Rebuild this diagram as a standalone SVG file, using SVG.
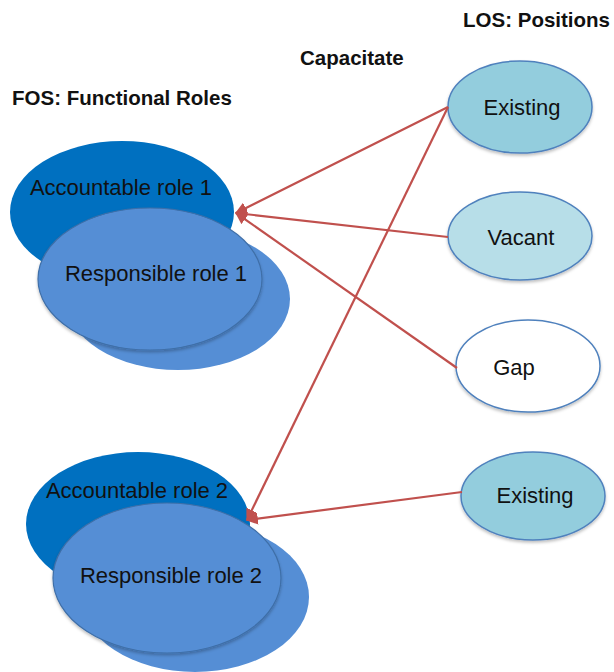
<svg xmlns="http://www.w3.org/2000/svg" width="614" height="672" viewBox="0 0 614 672">
  <style>
    .hdr { font-family: "Liberation Sans", Arial, sans-serif; font-weight: bold; font-size: 20.5px; fill: #111; }
    .lbl { font-family: "Liberation Sans", Arial, sans-serif; font-size: 22px; fill: #111; text-anchor: middle; }
    .acc { fill: #0070C0; }
    .resp { fill: #558ED5; }
    .resp-front { fill: #558ED5; stroke: #3F6FA8; stroke-width: 1.2; }
    .pos { stroke: #4F81BD; stroke-width: 1.5; }
    .existing { fill: #93CDDD; }
    .vacant { fill: #B7DEE8; }
    .gap { fill: #FFFFFF; }
    .link { stroke: #C0504D; stroke-width: 2.2; fill: none; marker-end: url(#arrow); }
  </style>
  <defs>
    <marker id="arrow" viewBox="0 0 10 10" refX="9" refY="5" markerWidth="5.5" markerHeight="5.5" orient="auto" markerUnits="strokeWidth">
      <path d="M0,0 L10,5 L0,10 z" fill="#C0504D"/>
    </marker>
    <filter id="soft" x="-10%" y="-10%" width="120%" height="130%">
      <feDropShadow dx="0" dy="2" stdDeviation="1.5" flood-color="#000" flood-opacity="0.25"/>
    </filter>
  </defs>

  <rect width="614" height="672" fill="#FFFFFF"/>

  <!-- headings -->
  <text class="hdr" x="610" y="27" font-size="19.5" text-anchor="end">LOS: Positions</text>
  <text class="hdr" x="300" y="65">Capacitate</text>
  <text class="hdr" x="12" y="105">FOS: Functional Roles</text>

  <!-- functional roles, group 1 -->
  <g id="accountable-role-1">
    <ellipse class="acc" cx="122" cy="212" rx="112" ry="71"/>
    <text class="lbl" x="121" y="195">Accountable role 1</text>
  </g>
  <g id="responsible-role-1">
    <ellipse class="resp" cx="178" cy="299" rx="112" ry="71"/>
    <ellipse class="resp-front" cx="150" cy="279" rx="112" ry="71" filter="url(#soft)"/>
    <text class="lbl" x="156" y="281">Responsible role 1</text>
  </g>

  <!-- functional roles, group 2 -->
  <g id="accountable-role-2">
    <ellipse class="acc" cx="138" cy="524" rx="112" ry="72"/>
    <text class="lbl" x="137" y="498">Accountable role 2</text>
  </g>
  <g id="responsible-role-2">
    <ellipse class="resp" cx="195" cy="597" rx="114" ry="75"/>
    <ellipse class="resp-front" cx="167" cy="578" rx="114" ry="75" filter="url(#soft)"/>
    <text class="lbl" x="171" y="583">Responsible role 2</text>
  </g>

  <!-- positions -->
  <g id="existing-1">
    <ellipse class="pos existing" cx="520" cy="107" rx="72" ry="46" filter="url(#soft)"/>
    <text class="lbl" x="522" y="115">Existing</text>
  </g>
  <g id="vacant">
    <ellipse class="pos vacant" cx="520" cy="236" rx="72" ry="44" filter="url(#soft)"/>
    <text class="lbl" x="521" y="245">Vacant</text>
  </g>
  <g id="gap">
    <ellipse class="pos gap" cx="528" cy="366" rx="72" ry="46" filter="url(#soft)"/>
    <text class="lbl" x="514" y="375">Gap</text>
  </g>
  <g id="existing-2">
    <ellipse class="pos existing" cx="533" cy="496" rx="72" ry="44" filter="url(#soft)"/>
    <text class="lbl" x="535" y="503">Existing</text>
  </g>

  <!-- capacitate links -->
  <g id="connectors">
    <line class="link" x1="448" y1="107" x2="236" y2="213"/>
    <line class="link" x1="448" y1="237" x2="236" y2="213"/>
    <line class="link" x1="457" y1="368" x2="236" y2="213"/>
    <line class="link" x1="448" y1="107" x2="247" y2="520"/>
    <line class="link" x1="462" y1="492" x2="247" y2="520"/>
  </g>
</svg>
